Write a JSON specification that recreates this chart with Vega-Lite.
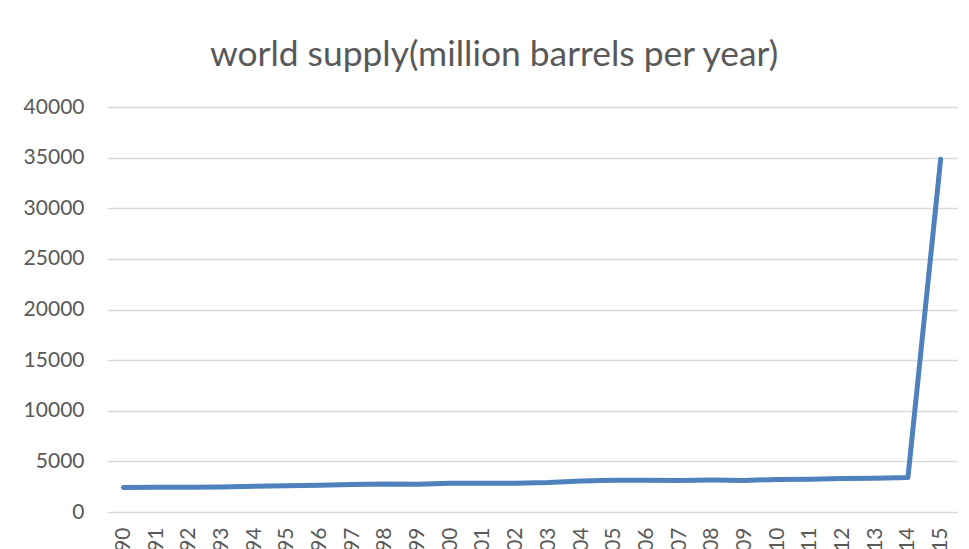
{
  "$schema": "https://vega.github.io/schema/vega-lite/v6.json",
  "autosize": {"type": "none"},
  "width": 850,
  "height": 405,
  "padding": {"left": 107, "top": 107, "right": 12, "bottom": 37},
  "background": "#ffffff",
  "title": {
    "text": "world supply(million barrels per year)",
    "font": "Lato",
    "fontSize": 35.4,
    "fontWeight": "normal",
    "color": "#595959",
    "anchor": "middle",
    "frame": "group",
    "baseline": "alphabetic",
    "offset": 41,
    "dx": -38,
    "dy": 46
  },
  "data": {
    "values": [
      {"year": "1990", "supply": 2430},
      {"year": "1991", "supply": 2440},
      {"year": "1992", "supply": 2450},
      {"year": "1993", "supply": 2480},
      {"year": "1994", "supply": 2540},
      {"year": "1995", "supply": 2590},
      {"year": "1996", "supply": 2650},
      {"year": "1997", "supply": 2710},
      {"year": "1998", "supply": 2760},
      {"year": "1999", "supply": 2730},
      {"year": "2000", "supply": 2830},
      {"year": "2001", "supply": 2840},
      {"year": "2002", "supply": 2840},
      {"year": "2003", "supply": 2910},
      {"year": "2004", "supply": 3060},
      {"year": "2005", "supply": 3130},
      {"year": "2006", "supply": 3130},
      {"year": "2007", "supply": 3120},
      {"year": "2008", "supply": 3150},
      {"year": "2009", "supply": 3110},
      {"year": "2010", "supply": 3220},
      {"year": "2011", "supply": 3240},
      {"year": "2012", "supply": 3300},
      {"year": "2013", "supply": 3340},
      {"year": "2014", "supply": 3410},
      {"year": "2015", "supply": 34850}
    ]
  },
  "mark": {"type": "line", "color": "#4f81bd", "strokeWidth": 5, "strokeCap": "round", "strokeJoin": "round"},
  "encoding": {
    "x": {
      "field": "year",
      "type": "ordinal",
      "scale": {"type": "point", "padding": 0.5},
      "axis": {
        "title": null,
        "labelAngle": -90,
        "labelAlign": "right",
        "labelBaseline": "middle",
        "labelPadding": 15,
        "ticks": false,
        "tickSize": 0,
        "domain": false,
        "grid": false,
        "labelFont": "Lato",
        "labelFontSize": 21,
        "labelColor": "#595959"
      }
    },
    "y": {
      "field": "supply",
      "type": "quantitative",
      "scale": {"domain": [0, 40000], "nice": false},
      "axis": {
        "title": null,
        "values": [0, 5000, 10000, 15000, 20000, 25000, 30000, 35000, 40000],
        "format": "d",
        "ticks": false,
        "tickSize": 0,
        "domain": false,
        "grid": true,
        "gridColor": "#d9d9d9",
        "gridWidth": 1.5,
        "labelPadding": 23,
        "labelFont": "Lato",
        "labelFontSize": 21,
        "labelColor": "#595959"
      }
    }
  },
  "config": {"view": {"stroke": null}}
}
